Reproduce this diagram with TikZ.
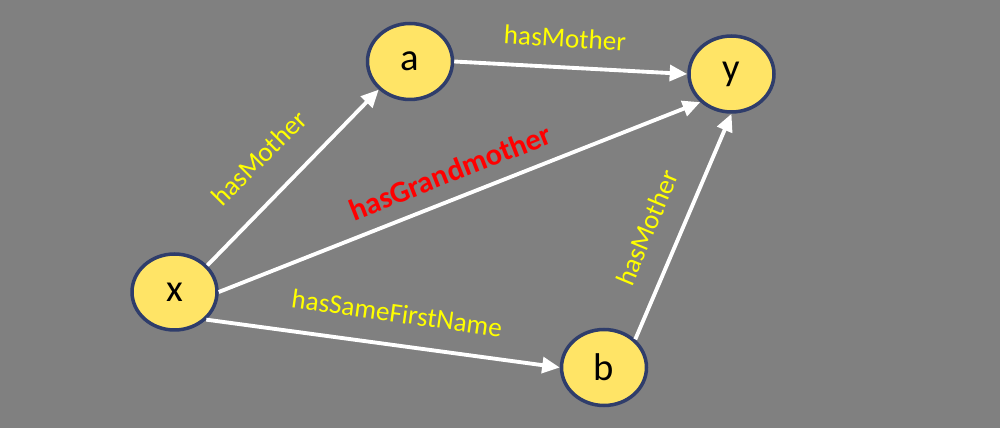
\documentclass[tikz,border=0pt]{standalone}
\usepackage{fontspec}
\setmainfont{Carlito}
\usetikzlibrary{arrows.meta,shapes.geometric}
\definecolor{bg}{HTML}{808080}
\definecolor{nodefill}{HTML}{FFE466}
\definecolor{nodeline}{HTML}{2F3D6B}
\definecolor{lblyellow}{HTML}{FFFF00}
\definecolor{lblred}{HTML}{FF0000}
\begin{document}
\begin{tikzpicture}[x=0.02cm,y=-0.02cm,
  vertex/.style={ellipse,draw=nodeline,fill=nodefill,line width=2pt,
    minimum width=1.70cm,minimum height=1.52cm,inner sep=0pt,font=\fontsize{22}{26}\selectfont},
  rel/.style={draw=white,line width=2.2pt,-{Triangle[length=10pt,width=9pt]}},
  lbl/.style={text=lblyellow,font=\fontsize{15.5}{18}\selectfont,inner sep=0pt},
  lblbold/.style={text=lblred,font=\bfseries\fontsize{17.3}{20}\selectfont,inner sep=0pt}]
\fill[bg] (0,0) rectangle (1000,428);
\useasboundingbox (0,0) rectangle (1000,428);
\node[vertex] (x) at (174.5,292) {x};
\node[vertex] (a) at (410,61.5) {a};
\node[vertex] (y) at (731.5,74) {y};
\node[vertex] (b) at (604,367.5) {b};
\draw[rel] (x.39) -- (a.222);
\draw[rel] (x.0) -- (y.222);
\draw[rel] (x.-41) -- (b.180);
\draw[rel] (a.0) -- (y.180);
\draw[rel] (b.42) -- (y.-90);
\node[lbl,rotate=45] (l1) at (259,158) {hasMother};
\node[lbl,rotate=-3.7] (l2) at (565,38) {hasMother};
\node[lbl,rotate=67.5] (l3) at (647,228) {hasMother};
\node[lbl,rotate=-8] (l4) at (397,313) {hasSameFirstName};
\node[lblbold,rotate=21.5] (l5) at (450,172) {hasGrandmother};
\end{tikzpicture}
\end{document}
